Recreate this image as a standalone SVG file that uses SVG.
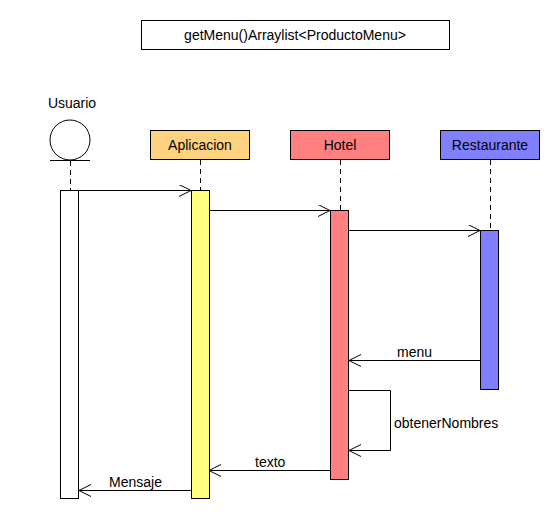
<svg xmlns="http://www.w3.org/2000/svg" width="560" height="530" viewBox="0 0 560 530">
<style>
text{font-family:"Liberation Sans",Arial,sans-serif;font-size:14px;fill:#000}
.c{text-anchor:middle}
.b{stroke:#000;stroke-width:1}
.ll{stroke:#000;stroke-width:1;stroke-dasharray:5,4;fill:none}
.m{stroke:#000;stroke-width:1;fill:none;marker-end:url(#a)}
</style>
<defs>
<marker id="a" markerWidth="14" markerHeight="14" refX="12" refY="6" orient="auto" markerUnits="userSpaceOnUse">
<path d="M0,0 L12,6 L0,12" fill="none" stroke="#000" stroke-width="1"/>
</marker>
</defs>
<rect width="560" height="530" fill="#fff"/>
<g id="title">
<rect x="141.5" y="20.5" width="308" height="29" fill="#fff" class="b"/>
<text class="c" x="295" y="40">getMenu()Arraylist&lt;ProductoMenu&gt;</text>
</g>
<g id="usuario">
<text class="c" x="72" y="108">Usuario</text>
<circle cx="70" cy="140" r="20" fill="#fff" class="b"/>
<line x1="50" y1="160.5" x2="90" y2="160.5" class="b"/>
<line x1="70.5" y1="161" x2="70.5" y2="190" class="ll"/>
<rect x="60.5" y="190.5" width="18" height="308" fill="#fff" class="b"/>
</g>
<g id="aplicacion">
<rect x="150.5" y="130.5" width="99" height="29" fill="#FFD280" class="b"/>
<text class="c" x="200" y="150">Aplicacion</text>
<line x1="200.5" y1="160" x2="200.5" y2="190" class="ll"/>
<rect x="191.5" y="190.5" width="18" height="308" fill="#FFFF80" class="b"/>
</g>
<g id="hotel">
<rect x="290.5" y="130.5" width="99" height="29" fill="#FF8080" class="b"/>
<text class="c" x="340" y="150">Hotel</text>
<line x1="340.5" y1="160" x2="340.5" y2="210" class="ll"/>
<rect x="330.5" y="210.5" width="18" height="269" fill="#FF8080" class="b"/>
</g>
<g id="restaurante">
<rect x="440.5" y="130.5" width="99" height="29" fill="#8080FF" class="b"/>
<text class="c" x="490" y="150">Restaurante</text>
<line x1="490.5" y1="160" x2="490.5" y2="230" class="ll"/>
<rect x="480.5" y="230.5" width="18" height="159" fill="#8080FF" class="b"/>
</g>
<g id="connectors">
<line x1="79" y1="190.5" x2="191" y2="190.5" class="m"/>
<line x1="209" y1="210.5" x2="330" y2="210.5" class="m"/>
<line x1="349" y1="230.5" x2="480" y2="230.5" class="m"/>
<line x1="480" y1="360.5" x2="349" y2="360.5" class="m"/>
<text x="397" y="357">menu</text>
<polyline points="349,390.5 390.5,390.5 390.5,450.5 349,450.5" class="m"/>
<text x="394" y="428">obtenerNombres</text>
<line x1="330" y1="470.5" x2="209" y2="470.5" class="m"/>
<text x="255" y="467">texto</text>
<line x1="191" y1="490.5" x2="79" y2="490.5" class="m"/>
<text x="109" y="487">Mensaje</text>
</g>
</svg>
